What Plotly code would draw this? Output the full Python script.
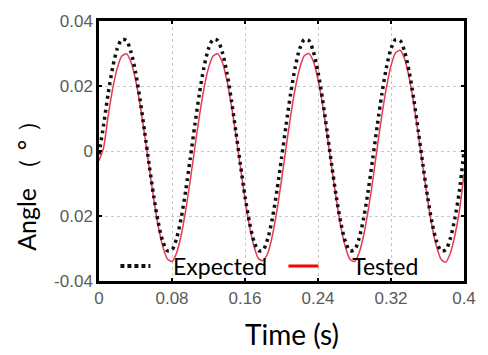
import plotly.graph_objects as go

# Sampling instants (s)
time_s = [
    0.000, 0.005, 0.010, 0.015, 0.020, 0.025, 0.030, 0.035, 0.040, 0.045,
    0.050, 0.055, 0.060, 0.065, 0.070, 0.075, 0.080, 0.085, 0.090, 0.095,
    0.100, 0.105, 0.110, 0.115, 0.120, 0.125, 0.130, 0.135, 0.140, 0.145,
    0.150, 0.155, 0.160, 0.165, 0.170, 0.175, 0.180, 0.185, 0.190, 0.195,
    0.200, 0.205, 0.210, 0.215, 0.220, 0.225, 0.230, 0.235, 0.240, 0.245,
    0.250, 0.255, 0.260, 0.265, 0.270, 0.275, 0.280, 0.285, 0.290, 0.295,
    0.300, 0.305, 0.310, 0.315, 0.320, 0.325, 0.330, 0.335, 0.340, 0.345,
    0.350, 0.355, 0.360, 0.365, 0.370, 0.375, 0.380, 0.385, 0.390, 0.395,
    0.400,
]

# Expected angle (deg)
expected = [
    -0.0010, 0.0079, 0.0176, 0.0257, 0.0315, 0.0343, 0.0340, 0.0305, 0.0243, 0.0158,
    0.0059, -0.0043, -0.0140, -0.0221, -0.0279, -0.0307, -0.0304, -0.0269, -0.0207, -0.0122,
    -0.0023, 0.0079, 0.0176, 0.0257, 0.0315, 0.0343, 0.0340, 0.0305, 0.0243, 0.0158,
    0.0059, -0.0043, -0.0140, -0.0221, -0.0279, -0.0307, -0.0304, -0.0269, -0.0207, -0.0122,
    -0.0023, 0.0079, 0.0176, 0.0257, 0.0315, 0.0343, 0.0340, 0.0305, 0.0243, 0.0158,
    0.0059, -0.0043, -0.0140, -0.0221, -0.0279, -0.0307, -0.0304, -0.0269, -0.0207, -0.0122,
    -0.0023, 0.0079, 0.0176, 0.0257, 0.0315, 0.0343, 0.0340, 0.0305, 0.0243, 0.0158,
    0.0059, -0.0043, -0.0140, -0.0221, -0.0279, -0.0307, -0.0304, -0.0269, -0.0207, -0.0122,
    0.0000,
]

# Tested angle (deg)
tested = [
    -0.0030, 0.0010, 0.0107, 0.0192, 0.0255, 0.0292, 0.0299, 0.0274, 0.0220, 0.0143,
    0.0050, -0.0050, -0.0147, -0.0232, -0.0295, -0.0332, -0.0340, -0.0314, -0.0260, -0.0183,
    -0.0090, 0.0010, 0.0107, 0.0192, 0.0255, 0.0292, 0.0299, 0.0274, 0.0220, 0.0143,
    0.0050, -0.0050, -0.0147, -0.0232, -0.0295, -0.0332, -0.0337, -0.0314, -0.0260, -0.0183,
    -0.0090, 0.0010, 0.0107, 0.0192, 0.0255, 0.0293, 0.0300, 0.0275, 0.0220, 0.0143,
    0.0050, -0.0050, -0.0147, -0.0232, -0.0295, -0.0333, -0.0340, -0.0314, -0.0260, -0.0183,
    -0.0090, 0.0012, 0.0110, 0.0196, 0.0262, 0.0302, 0.0310, 0.0282, 0.0224, 0.0145,
    0.0050, -0.0050, -0.0147, -0.0232, -0.0295, -0.0334, -0.0342, -0.0314, -0.0260, -0.0183,
    -0.0070,
]

x_ticks = [0, 0.08, 0.16, 0.24, 0.32, 0.4]
x_tick_text = ["0", "0.08", "0.16", "0.24", "0.32", "0.4"]
y_ticks = [0.04, 0.02, 0, -0.02, -0.04]
y_tick_text = ["0.04", "0.02", "0", "0.02", "-0.04"]

LABEL_FONT = "Lato"
TICK_FONT = "Liberation Sans"

fig = go.Figure()

fig.add_trace(go.Scatter(
    x=time_s, y=tested, mode="lines", showlegend=False,
    line=dict(color="#e63a55", width=1.5, shape="spline", smoothing=0.7),
))
fig.add_trace(go.Scatter(
    x=time_s, y=expected, mode="lines", showlegend=False,
    line=dict(color="#111111", width=3.5, dash="3px,4px", shape="spline", smoothing=0.8),
))

# Legend entries
fig.add_trace(go.Scatter(
    x=[None], y=[None], mode="lines", name="\u00a0\u00a0\u00a0Expected",
    line=dict(color="#111111", width=4, dash="4px,3px"),
))
fig.add_trace(go.Scatter(
    x=[None], y=[None], mode="lines", name="\u00a0\u00a0\u00a0\u00a0\u00a0Tested",
    line=dict(color="#ff0000", width=3),
))

axis_common = dict(
    showline=True, linecolor="black", linewidth=2.5, mirror="ticks",
    ticks="inside", ticklen=3, tickcolor="black", tickwidth=1.5,
    showgrid=True, gridcolor="#c8c8c8", gridwidth=1, griddash="dot",
    zeroline=False,
    tickfont=dict(family=TICK_FONT, size=17, color="#5a5a5a"),
)

fig.update_xaxes(range=[0, 0.4], tickvals=x_ticks, ticktext=x_tick_text, **axis_common)
fig.update_yaxes(range=[-0.04, 0.04], tickvals=y_ticks, ticktext=y_tick_text, **axis_common)

fig.update_layout(
    width=488, height=355,
    margin=dict(l=99, r=18, t=17, b=74),
    paper_bgcolor="white", plot_bgcolor="white",
    legend=dict(
        orientation="h", x=0.045, xanchor="left", y=-0.025, yanchor="bottom",
        bgcolor="rgba(0,0,0,0)", borderwidth=0,
        font=dict(family=LABEL_FONT, size=23, color="black"),
        entrywidth=123, entrywidthmode="pixels",
        itemwidth=30, tracegroupgap=0,
    ),
    annotations=[
        dict(text="Angle （ ° ）", xref="paper", yref="paper", x=-0.202, y=0.39,
             xanchor="center", yanchor="middle", textangle=-90, showarrow=False,
             font=dict(family=LABEL_FONT, size=25, color="black")),
        dict(text="Time (s)", xref="paper", yref="paper", x=0.53, y=-0.205,
             xanchor="center", yanchor="middle", showarrow=False,
             font=dict(family=LABEL_FONT, size=28, color="black")),
    ],
)

fig.write_html("out.html")
